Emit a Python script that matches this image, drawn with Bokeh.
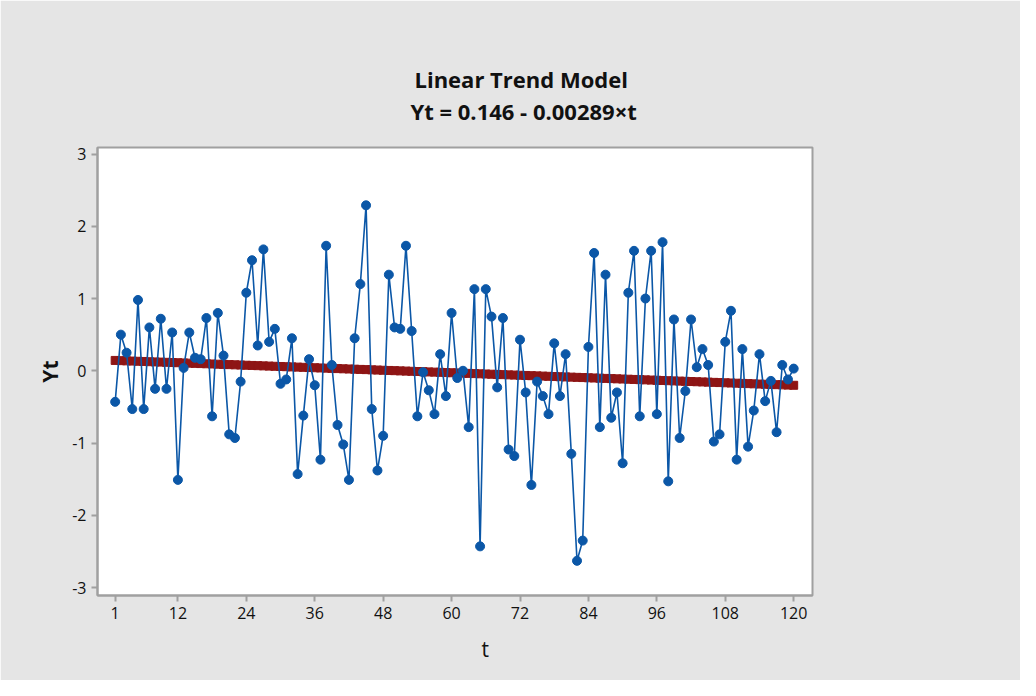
from bokeh.plotting import figure
from bokeh.models import Title, FixedTicker, Range1d
from bokeh.embed import file_html
from bokeh.resources import INLINE

t = list(range(1, 121))
yt = [
    -0.43, 0.50, 0.25, -0.53, 0.98, -0.53, 0.60, -0.25, 0.72, -0.25,
    0.53, -1.51, 0.04, 0.53, 0.18, 0.16, 0.73, -0.63, 0.80, 0.21,
    -0.88, -0.93, -0.15, 1.08, 1.53, 0.35, 1.68, 0.40, 0.58, -0.18,
    -0.12, 0.45, -1.43, -0.62, 0.16, -0.20, -1.23, 1.73, 0.08, -0.75,
    -1.02, -1.51, 0.45, 1.20, 2.29, -0.53, -1.38, -0.90, 1.33, 0.60,
    0.58, 1.73, 0.55, -0.63, -0.02, -0.27, -0.60, 0.23, -0.35, 0.80,
    -0.10, 0.00, -0.78, 1.13, -2.43, 1.13, 0.75, -0.23, 0.73, -1.09,
    -1.18, 0.43, -0.30, -1.58, -0.15, -0.35, -0.60, 0.38, -0.35, 0.23,
    -1.15, -2.63, -2.35, 0.33, 1.63, -0.78, 1.33, -0.65, -0.30, -1.28,
    1.08, 1.66, -0.63, 1.00, 1.66, -0.60, 1.78, -1.53, 0.71, -0.93,
    -0.28, 0.71, 0.05, 0.30, 0.08, -0.98, -0.88, 0.40, 0.83, -1.23,
    0.30, -1.05, -0.55, 0.23, -0.42, -0.14, -0.85, 0.08, -0.12, 0.03,
]
intercept = 0.146
slope = -0.00289
trend = [intercept + slope * ti for ti in t]

x_ticks = [1, 12, 24, 36, 48, 60, 72, 84, 96, 108, 120]
y_ticks = [-3, -2, -1, 0, 1, 2, 3]
title_main = "Linear Trend Model"
title_sub = "Yt = 0.146 - 0.00289×t"
x_label = "t"
y_label = "Yt"

FONT = "Open Sans"
BLUE = "#0B57A7"
RED = "#8E1515"
GRID_GREY = "#A0A0A0"

p = figure(width=1020, height=680, output_backend="svg", toolbar_location=None,
           title=None, x_range=Range1d(-2.1, 123.3), y_range=Range1d(-3.11, 3.09),
           min_border_left=97, min_border_right=208, min_border_top=147,
           min_border_bottom=85)

p.background_fill_color = "white"
p.border_fill_color = "#E5E5E5"
p.outline_line_color = GRID_GREY
p.outline_line_width = 2
p.grid.visible = False

sub = Title(text=title_sub, align="left", text_font=FONT,
            text_font_size="22px", text_font_style="bold", text_color="#111111",
            standoff=44, offset=313)
main = Title(text=title_main, align="left", text_font=FONT,
             text_font_size="22px", text_font_style="bold", text_color="#111111",
             standoff=-44, offset=317)
p.add_layout(sub, "above")
p.add_layout(main, "above")

for ax in (p.xaxis[0], p.yaxis[0]):
    ax.axis_line_color = GRID_GREY
    ax.axis_line_width = 2
    ax.major_tick_line_color = GRID_GREY
    ax.major_tick_line_width = 2
    ax.major_tick_out = 6
    ax.major_tick_in = 0
    ax.minor_tick_line_color = None
    ax.major_label_text_font = FONT
    ax.major_label_text_font_size = "16px"
    ax.major_label_text_color = "#111111"
    ax.major_label_standoff = 5
    ax.axis_label_text_font = FONT
    ax.axis_label_text_font_size = "21px"
    ax.axis_label_text_color = "#111111"

p.xaxis.ticker = FixedTicker(ticks=x_ticks)
p.yaxis.ticker = FixedTicker(ticks=y_ticks)
p.xaxis.major_label_overrides = {v: str(v) for v in x_ticks}
p.yaxis.major_label_overrides = {v: str(v) for v in y_ticks}
p.yaxis.axis_label = y_label
p.yaxis.axis_label_text_font_style = "bold"
p.yaxis.axis_label_standoff = 5

xl = Title(text=x_label, align="left", text_font=FONT, text_font_size="21px",
           text_font_style="normal", text_color="#111111", standoff=22, offset=384)
p.add_layout(xl, "below")

p.line(t, trend, line_color=RED, line_width=4)
p.scatter(t, trend, marker="square", size=8, fill_color=RED, line_color=RED)

p.line(t, yt, line_color=BLUE, line_width=1.6)
p.scatter(t, yt, marker="circle", size=9, fill_color=BLUE, line_color=BLUE)

open("out.html", "w").write(file_html(p, INLINE))
